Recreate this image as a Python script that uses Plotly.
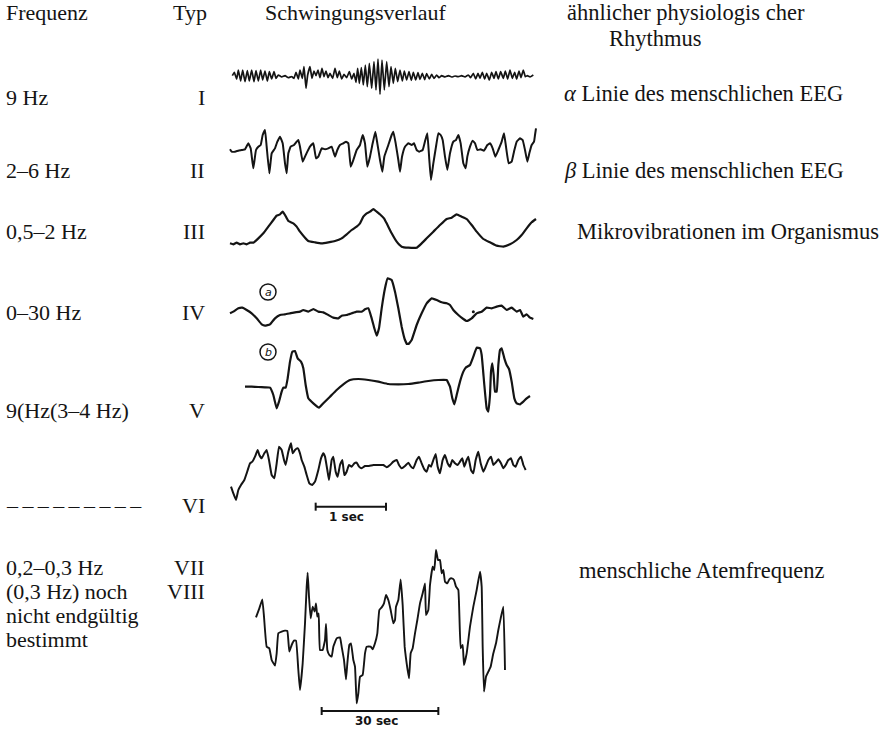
import plotly.graph_objects as go

# ---------------- data ----------------
headers = ["Frequenz", "Typ", "Schwingungsverlauf", "ähnlicher physiologis cher", "Rhythmus"]

frequenz = ["9 Hz", "2–6 Hz", "0,5–2 Hz", "0–30 Hz", "9(Hz(3–4 Hz)", "–\u2009" * 8 + "–",
            "0,2–0,3 Hz", "(0,3 Hz) noch", "nicht endgültig", "bestimmt"]
typ = ["I", "II", "III", "IV", "V", "VI", "VII", "VIII"]
rhythmus = ["<i>α</i> Linie des menschlichen EEG", "<i>β</i> Linie des menschlichen EEG",
            "Mikrovibrationen im Organismus", "menschliche Atemfrequenz"]

# wave recordings: (time units, pen deflection units; larger = lower on paper)
typ1 = [(37,62),(43,52),(50,72),(55,45),(62,78),(68,45),(75,80),(82,47),(88,78),(95,45),
        (102,80),(108,47),(115,78),(122,45),(128,75),(135,48),(142,78),(148,50),(155,72),(162,50),
        (168,70),(175,60),(185,66),(195,62),(205,68),(215,65),(222,70),(228,52),(235,72),(240,45),
        (247,70),(252,35),(258,100),(263,60),(270,35),(276,70),(282,48),(288,62),(294,45),(300,68),
        (306,40),(312,65),(318,48),(324,68),(330,55),(338,70),(345,40),(352,68),(358,48),(365,72),
        (372,58),(380,68),(388,50),(395,72),(402,55),(408,82),(413,40),(418,85),(424,38),(430,90),
        (436,30),(442,95),(448,25),(455,100),(462,20),(468,105),(474,12),(480,118),(486,15),(493,105),
        (500,20),(507,95),(513,35),(520,85),(526,40),(533,80),(540,45),(547,78),(553,48),(560,75),
        (567,50),(574,76),(580,52),(587,75),(594,53),(600,73),(607,55),(614,74),(620,56),(628,72),
        (635,58),(642,70),(650,60),(657,68),(665,62),(675,66),(685,62),(695,66),(705,63),(715,65),
        (725,62),(735,66),(745,60),(752,68),(760,55),(767,72),(774,55),(780,70),(787,52),(794,72),
        (800,55),(808,75),(815,52),(822,70),(828,50),(835,72),(842,50),(850,70),(856,48),(863,72),
        (870,45),(877,70),(884,52),(890,72),(897,48),(903,68),(910,45),(916,65),(922,62),(930,66),
        (940,60)]

typ2 = [(30,118),(35,125),(45,125),(55,122),(65,120),(75,118),(85,100),(92,115),(100,175),(108,120),
        (115,110),(122,105),(128,75),(135,60),(140,110),(148,190),(155,130),(165,115),(172,95),(180,80),
        (188,100),(195,160),(200,190),(205,130),(212,110),(222,105),(230,95),(235,90),(240,110),(248,155),
        (255,140),(262,125),(270,110),(280,100),(288,145),(295,140),(305,115),(315,118),(325,115),(335,110),
        (345,140),(352,120),(360,105),(370,100),(378,95),(385,100),(392,170),(400,150),(410,120),(420,105),
        (428,75),(435,100),(442,170),(450,140),(458,100),(466,65),(472,100),(480,150),(487,185),(493,140),
        (505,105),(515,75),(520,65),(527,100),(535,150),(540,185),(546,140),(555,110),(565,100),(575,105),
        (582,100),(590,120),(598,125),(608,120),(616,90),(622,70),(628,150),(633,210),(640,160),(648,110),
        (655,70),(662,75),(668,90),(675,140),(682,180),(690,130),(700,95),(708,90),(715,75),(722,100),
        (730,160),(737,175),(742,140),(750,110),(758,92),(765,100),(772,120),(782,118),(792,122),(802,105),
        (810,100),(818,115),(826,140),(835,120),(845,95),(852,70),(858,110),(866,160),(875,155),(882,125),
        (890,95),(900,85),(908,90),(915,120),(922,155),(928,130),(935,105),(942,95),(945,75),(948,55)]

typ3 = [(30,145),(40,148),(50,143),(60,148),(70,145),(80,148),(90,143),(100,143),(115,130),(130,115),
        (145,95),(160,75),(170,62),(180,58),(188,50),(195,60),(205,78),(220,85),(230,95),(240,110),
        (255,128),(265,138),(285,142),(305,145),(325,142),(345,138),(365,130),(380,118),(395,105),(410,95),
        (420,85),(430,65),(440,55),(450,50),(460,42),(470,50),(482,60),(492,70),(500,85),(515,115),
        (530,140),(545,155),(565,158),(590,158),(605,145),(620,130),(640,110),(660,90),(680,72),(695,68),
        (710,58),(725,65),(740,72),(755,90),(770,110),(790,132),(810,142),(830,152),(850,155),(870,148),
        (890,135),(905,120),(920,100),(935,82),(948,72)]

typ4 = [(45,145),(55,140),(70,130),(82,128),(95,135),(110,145),(125,160),(140,178),(150,182),(165,178),
        (180,160),(195,150),(210,148),(225,145),(240,142),(255,140),(265,135),(280,140),(295,132),(310,140),
        (325,142),(340,150),(355,158),(370,160),(380,152),(395,150),(410,145),(425,140),(440,140),(450,133),
        (460,130),(470,160),(478,190),(485,212),(492,190),(500,130),(510,70),(518,40),(530,45),(540,80),
        (550,130),(560,185),(570,225),(578,240),(590,225),(605,180),(620,145),(635,115),(650,100),(665,105),
        (680,112),(695,115),(705,120),(715,135),(730,150),(745,162),(755,168),(770,160),(785,145),(800,140),
        (815,128),(830,130),(845,125),(860,122),(875,135),(890,128),(905,140),(915,135),(925,155),(935,148),
        (945,158),(955,162)]
typ4_dot = (775, 140)

typ5 = [(90,125),(110,125),(130,126),(150,127),(165,128),(175,150),(185,190),(192,170),(200,140),(205,128),
        (212,128),(218,100),(225,50),(232,20),(240,18),(248,40),(258,50),(265,70),(272,120),(280,160),
        (295,175),(312,188),(325,175),(345,155),(365,135),(385,118),(405,105),(430,102),(460,105),(490,110),
        (520,117),(550,118),(580,117),(610,113),(640,108),(670,105),(695,105),(705,125),(712,160),(718,178),
        (725,150),(735,110),(745,80),(752,68),(765,60),(775,35),(785,8),(795,10),(800,30),(808,120),
        (815,190),(820,200),(825,150),(828,80),(832,55),(836,90),(840,140),(845,140),(850,60),(855,15),
        (860,10),(868,40),(875,60),(882,72),(890,110),(898,160),(905,175),(915,178),(925,170),(935,160),
        (945,153)]

typ6 = [(48,230),(55,250),(63,270),(70,240),(78,225),(88,210),(95,190),(105,160),(112,155),(120,140),
        (128,120),(133,135),(140,145),(148,130),(155,120),(162,150),(170,195),(178,205),(185,160),(192,110),
        (200,120),(207,150),(212,165),(220,125),(228,100),(233,130),(240,120),(248,115),(255,130),(260,150),
        (268,170),(275,195),(283,220),(292,225),(300,215),(310,180),(318,145),(325,130),(330,140),(337,180),
        (342,210),(350,150),(355,140),(362,185),(368,200),(375,165),(382,150),(388,195),(395,185),(402,165),
        (410,170),(418,160),(425,158),(432,170),(440,175),(450,168),(462,168),(475,165),(490,165),(505,165),
        (515,172),(525,165),(535,155),(545,150),(552,165),(560,175),(570,168),(580,158),(588,170),(595,175),
        (605,150),(612,140),(620,160),(628,178),(635,185),(642,165),(648,170),(655,150),(662,132),(668,170),
        (675,190),(683,150),(690,135),(698,160),(705,170),(712,150),(720,160),(728,165),(735,155),(742,145),
        (748,170),(755,150),(760,140),(768,180),(775,190),(782,150),(790,125),(797,160),(805,185),(810,175),
        (820,150),(828,140),(835,165),(842,158),(850,148),(858,160),(865,175),(872,165),(880,150),(888,145),
        (895,165),(902,170),(910,150),(918,140),(925,165),(932,180)]
typ6_scale = ([302, 513], 290, "1 sec")

typ8 = [(48,292),(58,265),(67,238),(72,290),(80,380),(88,385),(95,420),(105,437),(110,400),(115,340),
        (125,335),(135,332),(142,333),(148,395),(155,375),(162,362),(168,362),(175,450),(180,510),(188,430),
        (195,310),(200,200),(203,158),(207,230),(212,295),(218,260),(224,275),(228,250),(232,290),(236,280),
        (240,390),(248,390),(255,360),(258,312),(262,390),(268,405),(275,410),(280,380),(290,355),(300,352),
        (305,380),(312,420),(318,478),(322,430),(328,375),(333,370),(340,420),(345,440),(350,550),(355,520),
        (360,470),(368,465),(375,400),(380,380),(392,380),(398,388),(405,370),(412,340),(418,270),(425,262),
        (432,250),(438,225),(445,240),(452,270),(460,310),(465,300),(468,260),(475,240),(482,178),(488,255),
        (494,380),(500,430),(507,475),(512,400),(518,385),(525,340),(532,300),(540,250),(548,220),(555,190),
        (558,285),(565,270),(570,195),(578,140),(583,150),(588,90),(594,120),(600,120),(605,160),(610,150),
        (615,185),(622,190),(628,178),(635,175),(642,180),(648,200),(655,210),(658,280),(662,385),(668,375),
        (672,435),(680,400),(690,320),(700,260),(710,210),(720,155),(725,200),(728,380),(732,515),(738,470),
        (745,455),(752,440),(760,400),(768,370),(775,330),(782,295),(790,260),(795,450)]
typ8_scale = ([245, 595], 573, "30 sec")

# ---------------- layout / styling ----------------
W, H = 896, 729
INK = "#141414"
FONT = "Liberation Serif, Times New Roman, serif"
FS_LEFT = 22
FS_RIGHT = 22.5

# panel boxes in pixels (left, top, right, bottom) and line width
panels = [
    ("typ1", typ1, (220, 55, 550, 115), 1.7),
    ("typ2", typ2, (220, 110, 550, 190), 2.0),
    ("typ3", typ3, (220, 195, 550, 255), 2.2),
    ("typ4", typ4, (215, 265, 545, 355), 2.2),
    ("typ5", typ5, (215, 345, 545, 415), 2.2),
    ("typ6", typ6, (215, 410, 545, 530), 2.0),
    ("typ8", typ8, (240, 520, 520, 729), 1.9),
]
UNIT = 3.0

fig = go.Figure()
layout_axes = {}
axis_ref = {}
for k, (name, pts, (l, t, r, b), lw) in enumerate(panels, start=1):
    xs = [p[0] for p in pts]
    ys = [p[1] for p in pts]
    xa = "x" if k == 1 else f"x{k}"
    ya = "y" if k == 1 else f"y{k}"
    axis_ref[name] = (xa, ya)
    fig.add_trace(go.Scatter(x=xs, y=ys, mode="lines", xaxis=xa, yaxis=ya,
                             line=dict(color=INK, width=lw, shape="spline", smoothing=0.3),
                             hoverinfo="skip", showlegend=False))
    kx = "xaxis" if k == 1 else f"xaxis{k}"
    ky = "yaxis" if k == 1 else f"yaxis{k}"
    layout_axes[kx] = dict(domain=[l / W, r / W], range=[0, (r - l) * UNIT], visible=False,
                           fixedrange=True, anchor=ya)
    layout_axes[ky] = dict(domain=[1 - b / H, 1 - t / H], range=[(b - t) * UNIT, 0], visible=False,
                           fixedrange=True, anchor=xa)

# small dot on type IV trace
xa, ya = axis_ref["typ4"]
fig.add_trace(go.Scatter(x=[typ4_dot[0]], y=[typ4_dot[1]], mode="markers", xaxis=xa, yaxis=ya,
                         marker=dict(color=INK, size=3), hoverinfo="skip", showlegend=False))

shapes = []
annotations = []
# scale bars
for name, (span, lvl, label) in (("typ6", typ6_scale), ("typ8", typ8_scale)):
    xa, ya = axis_ref[name]
    shapes.append(dict(type="line", xref=xa, yref=ya, x0=span[0], x1=span[1], y0=lvl, y1=lvl,
                       line=dict(color=INK, width=2)))
    for s in span:
        shapes.append(dict(type="line", xref=xa, yref=ya, x0=s, x1=s, y0=lvl - 12, y1=lvl + 12,
                           line=dict(color=INK, width=2)))
    annotations.append(dict(xref=xa, yref=ya, x=(span[0] + span[1]) / 2 - 12, y=lvl + 30,
                            text=f"<b>{label}</b>", showarrow=False,
                            font=dict(family="DejaVu Sans", size=12, color=INK)))


def px(x, y, text, anchor="left", size=FS_LEFT):
    annotations.append(dict(xref="paper", yref="paper", x=x / W, y=1 - y / H, text=text,
                            showarrow=False, xanchor=anchor, yanchor="middle", borderpad=0,
                            font=dict(family=FONT, size=size, color=INK)))


# headers
px(5, 12, headers[0])
px(172, 12, headers[1])
px(264, 12, headers[2])
px(566, 12, headers[3], size=FS_RIGHT)
px(608, 38, headers[4], size=FS_RIGHT)

# frequency column
freq_y = [97, 171, 232, 312, 410, 505, 567, 591, 615, 639]
for txt, y in zip(frequenz, freq_y):
    px(5, y, txt)

# type column (right aligned)
typ_y = [97, 171, 232, 312, 410, 505, 567, 591]
for txt, y in zip(typ, typ_y):
    px(206, y, txt, anchor="right")

# rhythm column
px(563, 94, rhythmus[0], size=FS_RIGHT)
px(563, 171, rhythmus[1], size=FS_RIGHT)
px(576, 232, rhythmus[2], size=FS_RIGHT)
px(578, 570, rhythmus[3], size=FS_RIGHT)

# circled labels on types IV / V
for cx, cy, letter in ((268, 292, "a"), (268, 352, "b")):
    shapes.append(dict(type="circle", xref="paper", yref="paper",
                       x0=(cx - 8) / W, x1=(cx + 8) / W, y0=1 - (cy + 8) / H, y1=1 - (cy - 8) / H,
                       line=dict(color=INK, width=1.5)))
    annotations.append(dict(xref="paper", yref="paper", x=cx / W, y=1 - cy / H, text=f"<i>{letter}</i>",
                            showarrow=False, xanchor="center", yanchor="middle",
                            font=dict(family="DejaVu Sans", size=11, color=INK)))

fig.update_layout(width=W, height=H, margin=dict(l=0, r=0, t=0, b=0),
                  paper_bgcolor="white", plot_bgcolor="white",
                  shapes=shapes, annotations=annotations, showlegend=False, **layout_axes)

fig.write_html("out.html", config={"displayModeBar": False},
               post_script="document.body.style.margin='0';document.body.style.padding='0';")
